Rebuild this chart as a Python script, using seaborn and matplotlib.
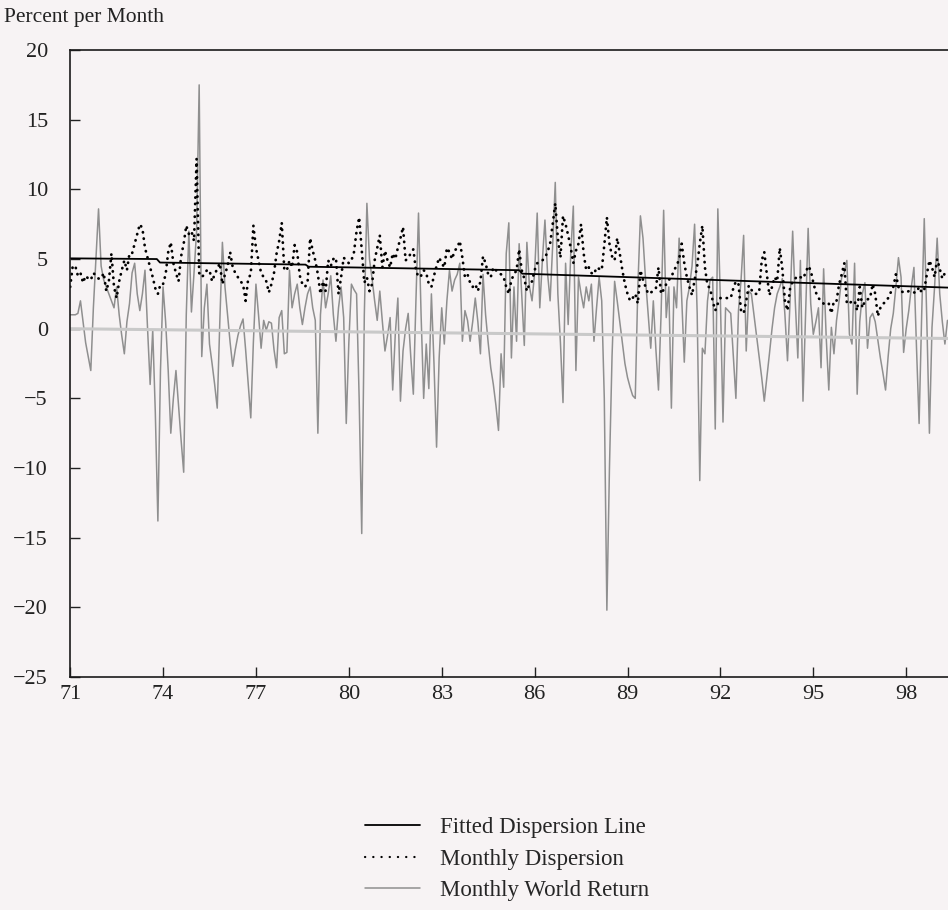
import numpy as np
import pandas as pd
import matplotlib
matplotlib.use('Agg')
import matplotlib.pyplot as plt
from matplotlib.lines import Line2D
import seaborn as sns

# Monthly world return (% per month), Jan 71 onwards
r71 = [1.0, 1.0, 1.0, 1.1, 2.0, 0.5, -1.0, -2.0, -3.0, 1.5, 5.0, 8.6]
r72 = [4.5, 3.5, 3.0, 2.5, 2.0, 1.5, 3.0, 1.0, -0.5, -1.8, 0.5, 1.8]
r73 = [4.0, 4.7, 2.5, 1.3, 2.5, 4.2, 0.0, -4.0, -0.1, -6.0, -13.8, -3.0]
r74 = [3.0, 0.5, -3.0, -7.5, -5.0, -3.0, -5.5, -8.0, -10.3, 1.0, 7.0, 1.2]
r75 = [4.0, 7.0, 17.5, -2.0, 1.5, 3.2, -1.1, -2.5, -4.0, -5.7, 0.5, 6.2]
r76 = [3.0, 1.0, -1.0, -2.7, -1.5, -0.5, 0.2, 0.7, -1.5, -4.0, -6.4, -1.0]
r77 = [3.2, 1.0, -1.4, 0.6, -0.1, 0.5, 0.4, -1.5, -2.8, 0.8, 1.3, -1.8]
r78 = [-1.7, 4.2, 1.5, 2.5, 3.2, 1.5, 0.3, 1.5, 2.5, 3.0, 1.5, 0.6]
r79 = [-7.5, 1.0, 3.5, 1.5, 2.5, 3.8, 1.0, -0.9, 1.5, 3.0, 0.8, -6.8]
r80 = [-1.0, 3.2, 2.8, 2.5, -5.0, -14.7, 1.0, 9.0, 5.0, 3.6, 2.0, 0.6]
r81 = [2.7, 0.5, -1.6, -0.5, 0.8, -4.4, -0.4, 2.2, -5.2, -1.6, 0.0, 1.1]
r82 = [-2.0, -4.7, 2.0, 8.3, 1.0, -5.0, -1.1, -4.3, 2.5, -2.5, -8.5, -2.1]
r83 = [1.5, -1.1, 2.0, 4.2, 2.7, 3.5, 3.9, 4.7, -0.9, 1.3, 0.6, -0.9]
r84 = [0.5, 2.2, 0.5, -1.8, 3.9, 1.0, -1.0, -2.8, -4.0, -5.5, -7.3, -1.8]
r85 = [-4.2, 5.4, 7.6, -2.1, 3.0, -0.9, 6.1, 2.5, -1.2, 6.2, 3.0, 2.0]
r86 = [4.0, 8.3, 1.5, 4.9, 7.8, 4.0, 2.0, 6.0, 10.5, 2.5, -1.0, -5.3]
r87 = [4.7, 0.3, 5.4, 8.8, -3.0, 3.7, 2.5, 1.5, 3.0, 2.0, 3.2, -0.9]
r88 = [1.5, 3.7, 2.0, -5.0, -20.2, -10.0, -2.0, 3.4, 2.0, 0.5, -1.0, -2.5]
r89 = [-3.5, -4.2, -4.8, -5.0, 3.0, 8.1, 6.5, 3.5, 1.0, -1.4, 2.0, -1.5]
r90 = [-4.4, 1.0, 8.5, 0.8, 3.0, -5.7, 3.0, 1.5, 6.5, 2.2, -2.4, 2.0]
r91 = [3.0, 4.5, 7.5, 1.1, -10.9, -1.4, -1.8, 2.0, 3.5, 3.7, -7.2, 8.6]
r92 = [2.0, -6.7, 1.5, 1.3, 1.1, -2.0, -5.0, 1.3, 3.5, 6.7, -1.6, 2.7]
r93 = [2.5, 1.0, -0.5, -2.0, -3.5, -5.2, -3.5, -1.8, 0.0, 1.5, 2.5, 3.0]
r94 = [3.6, 1.0, -2.3, 2.0, 7.0, 2.0, -2.1, 4.9, -5.2, 1.0, 7.2, 1.8]
r95 = [-0.4, 0.5, 1.5, -2.8, 4.3, -0.6, -4.4, 0.1, -1.8, 0.6, 2.0, 3.7]
r96 = [4.0, 4.9, -0.4, -1.1, 4.7, -4.7, 0.5, 2.5, 3.3, -1.4, 0.8, 1.1]
r97 = [0.5, -0.8, -2.1, -3.2, -4.4, -2.0, 0.0, 1.1, 3.0, 5.1, 3.7, -1.7]
r98 = [0.0, 1.3, 3.0, 4.4, -1.4, -6.8, 1.0, 7.9, 0.5, -7.5, 0.1, 3.0]
r99 = [6.5, 2.5, 0.5, -1.1, 0.6]

# Monthly cross-country dispersion (% per month)
d71 = [3.0, 4.5, 4.5, 3.8, 4.0, 3.3, 3.8, 3.6, 3.5, 4.0, 3.8, 3.6]
d72 = [3.6, 4.0, 2.7, 3.4, 5.4, 3.0, 2.2, 3.4, 4.2, 4.9, 4.2, 5.4]
d73 = [5.4, 6.1, 6.8, 7.5, 7.2, 5.8, 5.1, 4.4, 3.7, 2.9, 2.5, 3.2]
d74 = [3.2, 3.9, 5.5, 6.2, 4.7, 4.0, 3.4, 5.2, 6.1, 7.4, 6.8, 7.0]
d75 = [6.3, 12.2, 4.0, 3.7, 3.9, 4.2, 4.2, 3.4, 3.9, 4.3, 4.7, 3.2]
d76 = [3.9, 4.5, 5.5, 4.4, 4.0, 3.7, 3.4, 3.2, 2.0, 3.6, 3.9, 7.4]
d77 = [5.8, 4.9, 4.0, 3.7, 3.4, 2.6, 3.2, 4.0, 5.4, 6.3, 7.6, 4.2]
d78 = [4.2, 4.9, 4.4, 6.0, 5.5, 3.8, 3.2, 3.0, 3.3, 6.5, 5.6, 4.9]
d79 = [3.9, 2.5, 3.4, 2.7, 4.9, 4.5, 5.0, 5.1, 2.5, 3.7, 5.1, 4.9]
d80 = [4.7, 4.9, 5.5, 7.0, 8.0, 5.6, 3.3, 3.7, 2.7, 3.2, 4.9, 5.8]
d81 = [6.7, 4.4, 5.6, 4.9, 4.4, 5.4, 5.0, 5.8, 6.5, 7.3, 4.9, 5.1]
d82 = [5.4, 5.7, 4.2, 3.7, 3.8, 4.2, 4.0, 3.2, 3.0, 3.8, 4.5, 5.1]
d83 = [4.7, 4.4, 5.8, 5.5, 5.0, 5.6, 5.8, 6.3, 5.1, 3.7, 3.9, 3.3]
d84 = [3.0, 3.2, 2.7, 3.4, 5.2, 4.7, 3.9, 3.7, 4.4, 4.2, 4.0, 3.9]
d85 = [3.7, 3.0, 2.5, 3.5, 3.9, 4.2, 5.7, 4.2, 3.6, 2.7, 3.2, 3.4]
d86 = [4.2, 4.7, 4.8, 4.9, 5.1, 5.5, 6.1, 7.5, 9.0, 6.5, 5.1, 8.1]
d87 = [7.5, 6.7, 5.8, 4.7, 5.6, 6.1, 7.5, 5.4, 4.2, 4.4, 4.0, 3.9]
d88 = [4.4, 4.3, 4.2, 6.0, 8.0, 6.1, 5.2, 4.9, 6.5, 5.4, 4.2, 3.2]
d89 = [2.5, 2.0, 2.2, 2.5, 1.8, 4.2, 3.5, 3.0, 2.5, 2.6, 2.7, 2.9]
d90 = [4.4, 2.5, 2.8, 3.2, 3.5, 3.7, 4.2, 4.5, 5.0, 6.1, 4.7, 3.7]
d91 = [3.0, 2.4, 3.5, 4.5, 6.1, 7.4, 4.4, 3.1, 2.9, 2.0, 1.3, 1.8]
d92 = [2.2, 2.2, 2.2, 2.2, 2.2, 2.9, 3.4, 3.2, 1.3, 1.1, 2.0, 3.1]
d93 = [2.8, 2.5, 2.5, 2.6, 4.9, 5.5, 3.9, 2.4, 3.0, 3.7, 3.4, 5.8]
d94 = [4.3, 2.0, 1.3, 2.9, 3.4, 3.6, 3.8, 3.7, 3.6, 4.0, 4.5, 4.2]
d95 = [3.3, 2.6, 2.2, 2.0, 1.8, 1.7, 1.8, 1.1, 2.0, 2.0, 3.2, 3.9]
d96 = [4.7, 1.8, 1.8, 2.0, 2.0, 1.3, 3.0, 1.5, 2.0, 2.1, 2.2, 3.2]
d97 = [2.5, 0.9, 1.5, 1.8, 1.9, 2.2, 2.6, 3.0, 3.9, 3.0, 2.7, 2.6]
d98 = [2.6, 2.7, 2.6, 2.6, 2.6, 3.0, 2.6, 2.8, 3.9, 4.9, 4.4, 3.7]
d99 = [5.0, 4.3, 3.6, 4.0, 4.2]

# Fitted dispersion line (stepped trend) and the faint return trend near zero
fit_years = [71.0, 73.8, 73.9, 78.6, 78.7, 85.5, 85.6, 99.35]
fit_values = [5.05, 5.0, 4.75, 4.6, 4.45, 4.2, 3.95, 2.95]
ret_trend_years = [71.0, 99.35]
ret_trend_values = [0.0, -0.7]

x_ticks = [71, 74, 77, 80, 83, 86, 89, 92, 95, 98]
y_ticks = [-25, -20, -15, -10, -5, 0, 5, 10, 15, 20]

world_return = np.concatenate([r71, r72, r73, r74, r75, r76, r77, r78, r79, r80,
                               r81, r82, r83, r84, r85, r86, r87, r88, r89, r90,
                               r91, r92, r93, r94, r95, r96, r97, r98, r99])
dispersion = np.concatenate([d71, d72, d73, d74, d75, d76, d77, d78, d79, d80,
                             d81, d82, d83, d84, d85, d86, d87, d88, d89, d90,
                             d91, d92, d93, d94, d95, d96, d97, d98, d99])
df = pd.DataFrame({
    'year': 71 + np.arange(len(world_return)) / 12.0,
    'world_return': world_return,
    'dispersion': dispersion,
})

sns.set_style('ticks')
plt.rcParams['font.family'] = ['Liberation Serif', 'DejaVu Serif']
bg = '#f7f3f4'
ret_color = '#8f8f8f'

fig = plt.figure(figsize=(9.48, 9.1), dpi=100, facecolor=bg)
ax = fig.add_axes([0.074, 0.256, 0.926, 0.689])
ax.set_facecolor(bg)

sns.lineplot(data=df, x='year', y='world_return', ax=ax, color=ret_color,
             lw=1.1, legend=False)
sns.lineplot(x=ret_trend_years, y=ret_trend_values, ax=ax, color='#c9c9c9',
             lw=2.2, legend=False)
sns.lineplot(data=df, x='year', y='dispersion', ax=ax, color='black', lw=2.0,
             linestyle=(0, (0.1, 2.2)), dash_capstyle='round', legend=False)
sns.lineplot(x=fit_years, y=fit_values, ax=ax, color='black', lw=1.3,
             legend=False)

ax.set_xlim(71, 99.35)
ax.set_ylim(-25, 20)
ax.set_xticks(x_ticks)
ax.set_xticklabels([str(t) for t in x_ticks])
ax.set_yticks(y_ticks)
ax.set_xlabel('')
ax.set_ylabel('')
ax.tick_params(axis='both', direction='in', length=7, width=1, labelsize=16,
               colors='#222222')
ax.tick_params(axis='y', pad=16)
ax.tick_params(axis='x', pad=6)
for side in ['left', 'top', 'bottom']:
    ax.spines[side].set_color('#1a1a1a')
    ax.spines[side].set_linewidth(1.2)
ax.spines['right'].set_visible(False)

fig.text(0.004, 0.991, 'Percent per Month', ha='left', va='top', fontsize=15.5,
         color='#222222')

# legend keys drawn like the printed key: solid, six dots, grey rule
handles = [
    Line2D([], [], color='black', lw=1.3),
    Line2D([], [], color='black', lw=1.6, linestyle=(0, (0.1, 3.6)),
           dash_capstyle='round'),
    Line2D([], [], color=ret_color, lw=1.1),
]
labels = ['Fitted Dispersion Line', 'Monthly Dispersion', 'Monthly World Return']
fig.legend(handles, labels, loc='center', bbox_to_anchor=(0.535, 0.056),
           frameon=False, fontsize=16.5, handlelength=2.4, handletextpad=0.9,
           labelspacing=0.45)

fig.savefig('out.png', dpi=100, facecolor=bg)
